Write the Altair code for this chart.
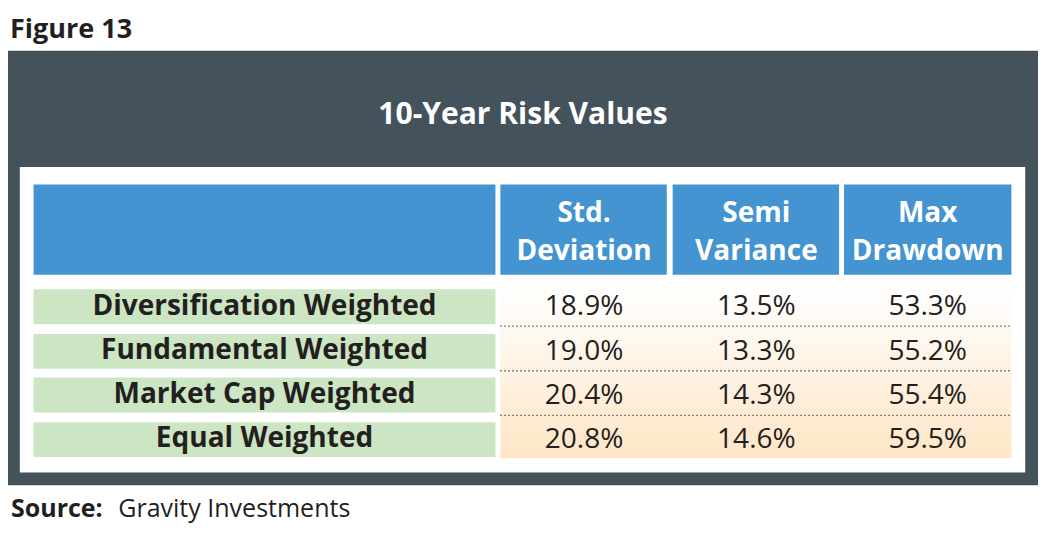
import altair as alt
import pandas as pd

# ---- data ----
row_labels = ["Diversification Weighted", "Fundamental Weighted", "Market Cap Weighted", "Equal Weighted"]
col_labels = ["Std.\nDeviation", "Semi\nVariance", "Max\nDrawdown"]
std_dev = [18.9, 19.0, 20.4, 20.8]
semi_var = [13.5, 13.3, 14.3, 14.6]
max_dd = [53.3, 55.2, 55.4, 59.5]

figure_label = "Figure 13"
title_text = "10-Year Risk Values"
source_bold = "Source:"
source_text = "Gravity Investments"

FONT = "Open Sans"
W, H = 1030, 517
REF_W, REF_H = 1046, 533

# ---- layout (reference pixel space) ----
label_x0, label_x1 = 26, 495
col_x0 = [500, 675, 849]
col_w = 170
head_y0, head_y1 = 182, 275
row_y0 = [290, 336, 381, 427]
row_h = 36
val_y0, val_y1 = 287, 464
val_x0, val_x1 = 500, 1019

xs = alt.Scale(domain=[0, REF_W], range=[0, W])
ys = alt.Scale(domain=[0, REF_H], range=[0, H])

def X(f="x"):
    return alt.X(f"{f}:Q", scale=xs, axis=None)

def Y(f="y"):
    return alt.Y(f"{f}:Q", scale=ys, axis=None)

# backgrounds
panels = pd.DataFrame({
    "x": [0, 12], "x2": [REF_W, 1033], "y": [44, 164], "y2": [492, 479],
    "c": ["#44525c", "#ffffff"],
})
panel_layer = alt.Chart(panels).mark_rect().encode(
    x=X(), x2="x2:Q", y=Y(), y2="y2:Q", color=alt.Color("c:N", scale=None)
)

# header cells
hdr = pd.DataFrame({
    "x": [label_x0] + col_x0,
    "x2": [label_x1] + [c + col_w - 1 for c in col_x0[:2]] + [val_x1],
    "y": [head_y0] * 4, "y2": [head_y1] * 4,
})
hdr_layer = alt.Chart(hdr).mark_rect(color="#4394d0").encode(x=X(), x2="x2:Q", y=Y(), y2="y2:Q")

hdr_text = pd.DataFrame({
    "x": [c + col_w / 2 for c in col_x0],
    "y": [221] * 3,
    "t": col_labels,
})
hdr_text_layer = alt.Chart(hdr_text).mark_text(
    font=FONT, fontWeight="bold", fontSize=28, color="white", lineBreak="\n", lineHeight=38,
    baseline="alphabetic", align="center"
).encode(x=X(), y=Y(), text="t:N")

# value gradient area
grad = pd.DataFrame({"x": [val_x0], "x2": [val_x1], "y": [val_y0], "y2": [val_y1]})
grad_layer = alt.Chart(grad).mark_rect(
    color=alt.Gradient(
        gradient="linear",
        stops=[alt.GradientStop(color="#ffffff", offset=0), alt.GradientStop(color="#fde6c6", offset=1)],
        x1=0, x2=0, y1=0, y2=1,
    )
).encode(x=X(), x2="x2:Q", y=Y(), y2="y2:Q")

# row label cells
rl = pd.DataFrame({
    "x": [label_x0] * 4, "x2": [label_x1] * 4,
    "y": row_y0, "y2": [r + row_h for r in row_y0],
    "cx": [(label_x0 + label_x1) / 2] * 4,
    "by": [r + 26 for r in row_y0],
    "t": row_labels,
})
rl_layer = alt.Chart(rl).mark_rect(color="#cce5c3").encode(x=X(), x2="x2:Q", y=Y(), y2="y2:Q")
rl_text_layer = alt.Chart(rl).mark_text(
    font=FONT, fontWeight="bold", fontSize=28, color="#231f20", baseline="alphabetic", align="center"
).encode(x=X("cx"), y=Y("by"), text="t:N")

# dotted separators
seps = pd.DataFrame({"x": [val_x0] * 3, "x2": [val_x1] * 3, "y": [328, 374, 420]})
sep_layer = alt.Chart(seps).mark_rule(color="#444444", strokeDash=[1.3, 2.7], strokeWidth=1.3).encode(
    x=X(), x2="x2:Q", y=Y()
)

# values
vals = []
for ci, series in enumerate([std_dev, semi_var, max_dd]):
    for ri, v in enumerate(series):
        vals.append({"x": col_x0[ci] + col_w / 2, "y": row_y0[ri] + 27, "t": f"{v:.1f}%"})
vals = pd.DataFrame(vals)
val_layer = alt.Chart(vals).mark_text(
    font=FONT, fontSize=28, color="#231f20", baseline="alphabetic", align="center"
).encode(x=X(), y=Y(), text="t:N")

# titles / captions
txt = pd.DataFrame({
    "x": [2, REF_W / 2, 3, 112],
    "y": [31, 120, 525, 525],
    "t": [figure_label, title_text, source_bold, source_text],
    "w": ["bold", "bold", "bold", "normal"],
    "s": [27, 30, 25, 25],
    "c": ["#231f20", "#ffffff", "#231f20", "#231f20"],
    "a": ["left", "center", "left", "left"],
})
txt_layers = []
for _, r in txt.iterrows():
    txt_layers.append(
        alt.Chart(txt[txt.t == r.t]).mark_text(
            font=FONT, fontWeight=r.w, fontSize=int(r.s), color=r.c, align=r.a, baseline="alphabetic"
        ).encode(x=X(), y=Y(), text="t:N")
    )

chart = alt.layer(
    panel_layer, hdr_layer, hdr_text_layer, grad_layer, rl_layer, rl_text_layer,
    sep_layer, val_layer, *txt_layers
).properties(
    width=W, height=H, padding=0, autosize=alt.AutoSizeParams(type="none")
).configure_view(stroke=None)

chart.save("out.html", embed_options={"renderer": "svg", "actions": False})
